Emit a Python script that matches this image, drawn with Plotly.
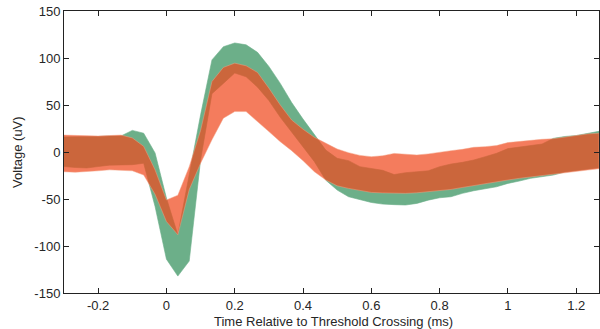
import plotly.graph_objects as go

time_ms = [-0.3, -0.2667, -0.2333, -0.2, -0.1667, -0.1333, -0.1, -0.0667, -0.0333, 0.0,
           0.0333, 0.0667, 0.1, 0.1333, 0.1667, 0.2, 0.2333, 0.2667, 0.3, 0.3333,
           0.3667, 0.4, 0.4333, 0.4667, 0.5, 0.5333, 0.5667, 0.6, 0.6333, 0.6667,
           0.7, 0.7333, 0.7667, 0.8, 0.8333, 0.8667, 0.9, 0.9333, 0.9667, 1.0,
           1.0333, 1.0667, 1.1, 1.1333, 1.1667, 1.2, 1.2333, 1.2667]

green_upper = [16, 16, 16, 16.5, 17, 17, 23, 20, -1, -49,
               -88, -25, 39.5, 98, 112, 116, 114, 106, 91, 73,
               52.6, 35, 18, 2, -6.7, -9.2, -15.6, -17.4, -19.5, -24,
               -22, -21, -20, -15.6, -12.8, -11, -8.5, -5, -1.4, 3.6,
               5, 6.4, 8.5, 14.5, 16.5, 17.5, 19.5, 22]
green_lower = [-15.5, -16.5, -17, -15.5, -14, -13.5, -13.5, -12, -58, -114,
               -132, -116, -8.5, 62, 73, 84, 80, 69, 54.7, 37,
               21.7, 5.7, -10.3, -30, -40.5, -47.6, -51, -53.7, -55.4, -56,
               -56.4, -54.7, -51.2, -48.7, -47.6, -44, -41.2, -38.7, -37, -33.4,
               -30.9, -28, -26.3, -24.5, -21.3, -19.9, -18.5, -16.7]
orange_upper = [18, 17.5, 17, 17, 17.5, 18, 15, 6, -19, -51,
                -46, -15.6, 23, 75, 90, 94.5, 91.7, 84.6, 67.9, 50,
                34, 24.2, 15.6, 9.2, 3.2, -0.7, -3.6, -5, -4, -1.5,
                -2.5, -3.2, -2, 0, 1.4, 2.8, 5, 5.7, 6.8, 10,
                11.4, 12.8, 13.5, 14.2, 16, 17.8, 19.2, 20]
orange_lower = [-21, -21.5, -21, -20, -19, -19.5, -20, -24.5, -45, -74,
                -88, -40, -12, 13, 36, 43, 43, 32.3, 21.7, 11,
                1.4, -9.2, -21, -29.8, -36, -38.7, -41, -43, -43.5, -44,
                -44, -43.4, -42.6, -41.2, -39.8, -37.7, -35.2, -33.4, -31.6, -29.8,
                -28, -26.3, -24.9, -23.5, -22, -20.6, -19.2, -17.8]

x_tickvals = [-0.2, 0, 0.2, 0.4, 0.6, 0.8, 1.0, 1.2]
x_ticktext = ["-0.2", "0", "0.2", "0.4", "0.6", "0.8", "1", "1.2"]
y_tickvals = [-150, -100, -50, 0, 50, 100, 150]
y_ticktext = ["-150", "-100", "-50", "0", "50", "100", "150"]

FONT = "Liberation Sans, Arial, Helvetica"
TXT = "#262626"


def band(upper, lower, fill, line):
    xs = list(time_ms) + list(reversed(time_ms))
    ys = list(upper) + list(reversed(lower))
    return go.Scatter(x=xs, y=ys, mode="lines", fill="toself", fillcolor=fill,
                      line=dict(color=line, width=0.6), hoverinfo="skip",
                      showlegend=False)


fig = go.Figure()
fig.add_trace(band(green_upper, green_lower, "rgb(108,175,137)", "rgba(108,175,137,1)"))
fig.add_trace(band(orange_upper, orange_lower, "rgba(240,73,31,0.72)", "rgba(245,160,130,0.8)"))

axis_common = dict(showline=True, linecolor="#222222", linewidth=1, mirror="ticks",
                   ticks="inside", ticklen=5, tickcolor="#222222", tickwidth=1,
                   showgrid=False, zeroline=False, automargin=False,
                   tickfont=dict(family=FONT, size=13, color=TXT))

fig.update_xaxes(range=[-0.3, 1.2667], tickvals=x_tickvals, ticktext=x_ticktext,
                 **axis_common)
fig.update_yaxes(range=[-150, 150], tickvals=y_tickvals, ticktext=y_ticktext,
                 **axis_common)

fig.add_annotation(text="Time Relative to Threshold Crossing (ms)", xref="paper", yref="paper",
                   x=0.503, y=-0.1, xanchor="center", yanchor="middle", showarrow=False,
                   font=dict(family=FONT, size=13, color=TXT))
fig.add_annotation(text="Voltage (uV)", xref="paper", yref="paper",
                   x=-0.088, y=0.5, xanchor="center", yanchor="middle", showarrow=False,
                   textangle=-90, font=dict(family=FONT, size=13, color=TXT))

fig.update_layout(width=600, height=329, margin=dict(l=64, r=1, t=11, b=36),
                  paper_bgcolor="white", plot_bgcolor="white", hovermode=False)

fig.write_html("out.html", config={"displayModeBar": False, "staticPlot": True},
               post_script="document.body.style.margin='0';document.body.style.padding='0';")
